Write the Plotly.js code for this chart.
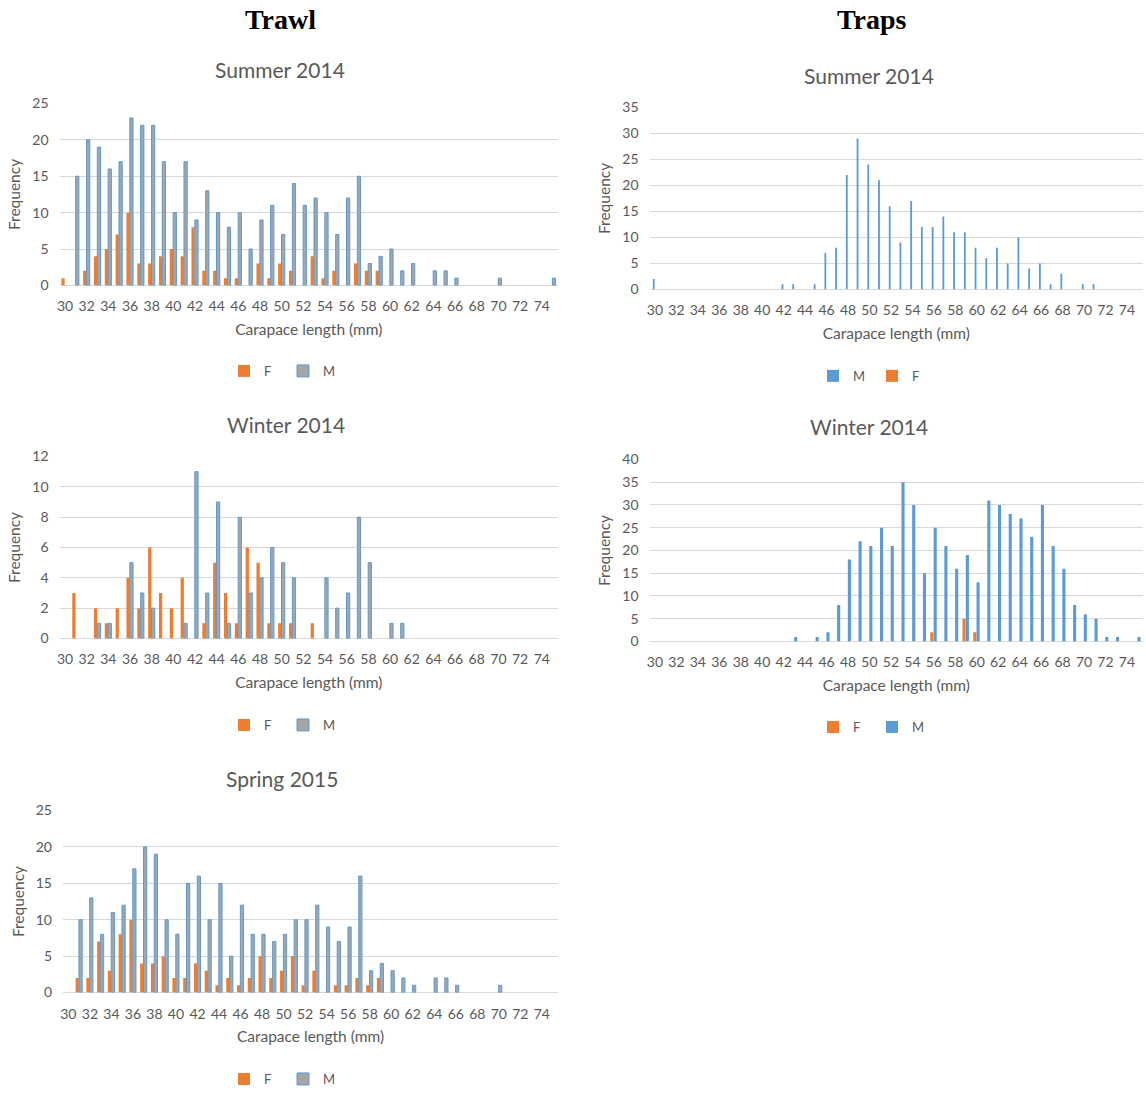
<!DOCTYPE html>
<html>
<head>
<meta charset="utf-8">
<script src="https://cdn.plot.ly/plotly-3.0.1.min.js"></script>
<style>html,body{margin:0;padding:0;background:#fff;}#chart{width:1146px;height:1094px;}</style>
</head>
<body>
<div id="chart"></div>
<script>
// Carapace length categories (mm)
const lengths = [30,31,32,33,34,35,36,37,38,39,40,41,42,43,44,45,46,47,48,49,50,51,52,53,54,55,56,57,58,59,60,61,62,63,64,65,66,67,68,69,70,71,72,73,74,75];
const tickLabels = [30,32,34,36,38,40,42,44,46,48,50,52,54,56,58,60,62,64,66,68,70,72,74];

// Trawl, Summer 2014
const trawlSummerF = [1,0,2,4,5,7,10,3,3,4, 5,4,8,2,2,1,1,0,3,1, 3,2,0,4,1,2,0,3,2,2, 0,0,0,0,0,0,0,0,0,0, 0,0,0,0,0,0];
const trawlSummerM = [0,15,20,19,16,17,23,22,22,17, 10,17,9,13,10,8,10,5,9,11, 7,14,11,12,10,7,12,15,3,4, 5,2,3,0,2,2,1,0,0,0, 1,0,0,0,0,1];
// Trawl, Winter 2014
const trawlWinterF = [0,3,0,2,1,2,4,2,6,3, 2,4,0,1,5,3,1,6,5,1, 1,1,0,1,0,0,0,0,0,0, 0,0,0,0,0,0,0,0,0,0, 0,0,0,0,0,0];
const trawlWinterM = [0,0,0,1,1,0,5,3,2,0, 0,1,11,3,9,1,8,3,4,6, 5,4,0,0,4,2,3,8,5,0, 1,1,0,0,0,0,0,0,0,0, 0,0,0,0,0,0];
// Trawl, Spring 2015
const trawlSpringF = [0,2,2,7,3,8,10,4,4,5, 2,2,4,3,1,2,1,2,5,2, 3,5,1,3,0,1,1,2,1,2, 0,0,0,0,0,0,0,0,0,0, 0,0,0,0,0,0];
const trawlSpringM = [0,10,13,8,11,12,17,20,19,10, 8,15,16,10,15,5,12,8,8,7, 8,10,10,12,9,7,9,16,3,4, 3,2,1,0,2,2,1,0,0,0, 1,0,0,0,0,0];
// Traps, Summer 2014
const trapsSummerM = [2,0,0,0,0,0,0,0,0,0, 0,0,1,1,0,1,7,8,22,29, 24,21,16,9,17,12,12,14,11,11, 8,6,8,5,10,4,5,1,3,0, 1,1,0,0,0,0];
const trapsSummerF = [0,0,0,0,0,0,0,0,0,0, 0,0,0,0,0,0,0,0,0,0, 0,0,0,0,0,0,0,0,0,0, 0,0,0,0,0,0,0,0,0,0, 0,0,0,0,0,0];
// Traps, Winter 2014
const trapsWinterF = [0,0,0,0,0,0,0,0,0,0, 0,0,0,0,0,0,0,0,0,0, 0,0,0,0,0,0,2,0,0,5, 2,0,0,0,0,0,0,0,0,0, 0,0,0,0,0,0];
const trapsWinterM = [0,0,0,0,0,0,0,0,0,0, 0,0,0,1,0,1,2,8,18,22, 21,25,21,35,30,15,25,21,16,19, 13,31,30,28,27,23,30,21,16,8, 6,5,1,1,0,1];

const W = 1146, H = 1094;
const ORANGE = '#ED7D31', BLUE = '#5B9BD5', GREY = '#A5A5A5';
const FONT = 'Lato, Carlito, Calibri, "Open Sans", sans-serif';
const TXT = '#595959';
const px = v => v / W;
const py = v => 1 - v / H;
// zero counts draw no bar (avoids outline slivers on the baseline)
const noZero = arr => arr.map(v => (v === 0 ? null : v));

function fBar(y, xa, ya, leg, off, wid) {
  return {type:'bar', name:'F', x:lengths, y:noZero(y), xaxis:xa, yaxis:ya, legend:leg,
    offset:off, width:wid, marker:{color:ORANGE, line:{width:0}}, hoverinfo:'x+y+name'};
}
function mBar(y, xa, ya, leg, off, wid, trawl) {
  return {type:'bar', name:'M', x:lengths, y:noZero(y), xaxis:xa, yaxis:ya, legend:leg,
    offset:off, width:wid,
    marker: trawl ? {color:GREY, line:{color:BLUE, width:1}} : {color:BLUE, line:{width:0}},
    hoverinfo:'x+y+name'};
}

const data = [
  fBar(trawlSummerF, 'x', 'y', 'legend', -0.33, 0.3),
  mBar(trawlSummerM, 'x', 'y', 'legend', -0.02, 0.3, true),
  fBar(trawlWinterF, 'x2', 'y2', 'legend2', -0.33, 0.3),
  mBar(trawlWinterM, 'x2', 'y2', 'legend2', -0.02, 0.3, true),
  fBar(trawlSpringF, 'x3', 'y3', 'legend3', -0.33, 0.3),
  mBar(trawlSpringM, 'x3', 'y3', 'legend3', -0.02, 0.3, true),
  mBar(trapsSummerM, 'x4', 'y4', 'legend4', -0.2, 0.17, false),
  fBar(trapsSummerF, 'x4', 'y4', 'legend4', -0.03, 0.17),
  fBar(trapsWinterF, 'x5', 'y5', 'legend5', -0.33, 0.29),
  mBar(trapsWinterM, 'x5', 'y5', 'legend5', -0.02, 0.29, false)
];

function xAxis(dom, anchor) {
  return {domain:dom, anchor:anchor, range:[29.5, 75.5], tickmode:'array', tickvals:tickLabels,
    ticktext:tickLabels.map(String), showgrid:false, zeroline:false, showline:false, ticks:'',
    ticklabelstandoff:11, tickfont:{family:FONT, size:14, color:TXT},
    title:{text:'Carapace length (mm)', font:{family:FONT, size:15.5, color:TXT}, standoff:10},
    fixedrange:true};
}
function yAxis(dom, anchor, max, step) {
  return {domain:dom, anchor:anchor, range:[0, max], dtick:step, tick0:0, showgrid:true,
    gridcolor:'#D9D9D9', gridwidth:1, zeroline:true, zerolinecolor:'#D9D9D9', zerolinewidth:1,
    showline:false, ticks:'', ticklabelstandoff:10, tickfont:{family:FONT, size:14, color:TXT},
    title:{text:'Frequency', font:{family:FONT, size:15.5, color:TXT}, standoff:7},
    fixedrange:true};
}

const leftX = [px(59.6), px(558)];
const leftX3 = [px(63), px(558)];
const rightX = [px(649.6), px(1143)];

function legendAt(cx, cy) {
  return {x:px(cx), y:py(cy), xanchor:'center', yanchor:'middle', orientation:'h',
    font:{family:FONT, size:13, color:TXT}, itemwidth:30, entrywidth:14, traceorder:'normal',
    bgcolor:'rgba(0,0,0,0)'};
}

function ann(text, cx, cy, size, opts) {
  return Object.assign({text:text, x:px(cx), y:py(cy), xref:'paper', yref:'paper',
    xanchor:'center', yanchor:'middle', showarrow:false,
    font:{family:FONT, size:size, color:TXT}}, opts || {});
}

const layout = {
  width:W, height:H, margin:{l:0, r:0, t:0, b:0},
  paper_bgcolor:'#fff', plot_bgcolor:'#fff',
  barmode:'group', showlegend:true,
  xaxis: xAxis(leftX, 'y'),
  yaxis: yAxis([py(287), py(104)], 'x', 25, 5),
  xaxis2: xAxis(leftX, 'y2'),
  yaxis2: yAxis([py(642), py(459)], 'x2', 12, 2),
  xaxis3: xAxis(leftX3, 'y3'),
  yaxis3: yAxis([py(998), py(815)], 'x3', 25, 5),
  xaxis4: xAxis(rightX, 'y4'),
  yaxis4: yAxis([py(291), py(108)], 'x4', 35, 5),
  xaxis5: xAxis(rightX, 'y5'),
  yaxis5: yAxis([py(645), py(462)], 'x5', 40, 5),
  legend: legendAt(283, 373),
  legend2: legendAt(283, 729),
  legend3: legendAt(283, 1085),
  legend4: legendAt(872, 378),
  legend5: legendAt(872, 731),
  annotations: [
    ann('<b>Trawl</b>', 280, 20, 28, {font:{family:'"Liberation Serif", "Times New Roman", serif', size:28, color:'#000'}}),
    ann('<b>Traps</b>', 872, 20, 28, {font:{family:'"Liberation Serif", "Times New Roman", serif', size:28, color:'#000'}}),
    ann('Summer 2014', 280, 70, 21),
    ann('Winter 2014', 286, 427, 21),
    ann('Spring 2015', 282, 783, 21),
    ann('Summer 2014', 869, 76, 21),
    ann('Winter 2014', 869, 429, 21)
  ]
};

Plotly.newPlot('chart', data, layout, {displayModeBar:false, staticPlot:true});
</script>
</body>
</html>
